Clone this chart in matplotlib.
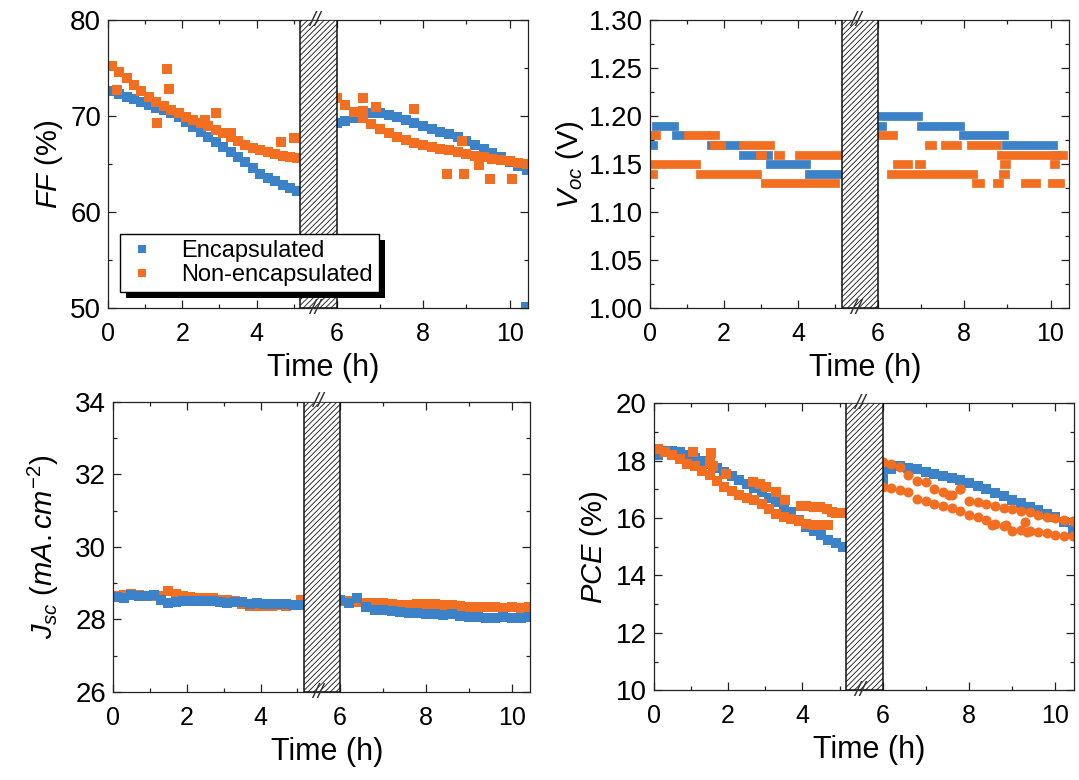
import numpy as np
import matplotlib
matplotlib.use("Agg")
import matplotlib.pyplot as plt
from matplotlib.patches import Rectangle

plt.rcParams['font.family'] = ['Liberation Sans', 'DejaVu Sans']
plt.rcParams['mathtext.fontset'] = 'custom'
plt.rcParams['mathtext.rm'] = 'Liberation Sans'
plt.rcParams['mathtext.it'] = 'Liberation Sans:italic'
plt.rcParams['hatch.linewidth'] = 0.6

BLUE = '#3c82c8'
ORANGE = '#f26f21'

# time grids (h), before and after the break
t_a = [0.1, 0.3, 0.5, 0.7, 0.9, 1.1, 1.3, 1.5, 1.7, 1.9, 2.1, 2.3, 2.5,
       2.7, 2.9, 3.1, 3.3, 3.5, 3.7, 3.9, 4.1, 4.3, 4.5, 4.7, 4.9, 5.1]
t_b = [6.0, 6.2, 6.4, 6.6, 6.8, 7.0, 7.2, 7.4, 7.6, 7.8, 8.0, 8.2,
       8.4, 8.6, 8.8, 9.0, 9.2, 9.4, 9.6, 9.8, 10.0, 10.2, 10.4]

# FF (%)
ff_enc_a = [72.6, 72.3, 72.0, 71.8, 71.5, 71.2, 70.9, 70.6, 70.3, 69.9, 69.4, 68.9, 68.4,
            67.8, 67.3, 66.8, 66.3, 65.7, 65.2, 64.6, 64.0, 63.6, 63.2, 62.8, 62.5, 62.2]
ff_enc_b = [69.3, 69.5, 69.8, 70.1, 70.3, 70.3, 70.1, 69.9, 69.6, 69.3, 69.0, 68.7,
            68.4, 68.1, 67.8, 67.4, 67.0, 66.6, 66.2, 65.7, 65.2, 64.8, 64.4]
ff_non_a = [75.2, 74.6, 74.0, 73.3, 72.6, 72.0, 71.5, 71.1, 70.7, 70.3, 69.9, 69.6, 69.3,
            69.0, 68.6, 68.2, 67.8, 67.4, 67.0, 66.7, 66.5, 66.3, 66.1, 65.9, 65.8, 65.6]
ff_non_b = [71.9, 71.2, 70.4, 69.8, 69.2, 68.7, 68.2, 67.8, 67.5, 67.2, 67.0, 66.8,
            66.6, 66.5, 66.3, 66.1, 65.9, 65.7, 65.5, 65.4, 65.3, 65.1, 65.0]
ff_non_xt = [0.24, 1.58, 1.63, 1.31, 2.92, 4.67, 5.0, 6.6, 6.9, 6.6, 7.8, 8.9, 8.55,
             8.95, 9.55, 10.05, 9.3, 2.6, 3.3]
ff_non_xv = [72.7, 74.9, 72.8, 69.3, 70.3, 67.3, 67.7, 71.9, 71.0, 70.5, 70.8, 67.4, 64.0,
             64.0, 63.5, 63.5, 64.9, 69.6, 68.3]
ff_enc_xt = [10.38]
ff_enc_xv = [50.1]

# Voc (V): runs of equal readings (start h, end h, value)
voc_enc_runs = [(0.15, 0.65, 1.19), (0.03, 0.07, 1.18), (0.71, 0.83, 1.18),
                (0.03, 0.07, 1.17), (1.65, 2.35, 1.17), (2.5, 3.18, 1.16),
                (3.25, 4.22, 1.15), (4.29, 5.05, 1.14),
                (6.09, 6.92, 1.20), (6.05, 6.1, 1.19), (6.99, 7.91, 1.19),
                (7.98, 8.92, 1.18), (8.96, 10.05, 1.17), (10.12, 10.16, 1.16)]
voc_non_runs = [(0.1, 0.16, 1.18), (1.03, 1.5, 1.18), (1.68, 1.75, 1.18),
                (1.72, 1.92, 1.17), (2.5, 3.23, 1.17),
                (2.97, 3.03, 1.16), (3.45, 3.5, 1.16), (4.02, 5.07, 1.16),
                (0.05, 1.23, 1.15), (0.03, 0.07, 1.14), (1.35, 2.9, 1.14),
                (3.1, 5.0, 1.13),
                (6.09, 6.35, 1.18), (7.18, 7.26, 1.17), (7.56, 7.84, 1.17),
                (8.16, 8.76, 1.17), (8.85, 10.28, 1.16),
                (6.43, 6.69, 1.15), (6.95, 7.0, 1.15), (8.93, 8.97, 1.15),
                (10.07, 10.11, 1.15), (6.29, 8.21, 1.14), (8.9, 8.94, 1.14),
                (8.27, 8.37, 1.13), (8.76, 8.8, 1.13), (9.4, 9.67, 1.13),
                (10.04, 10.21, 1.13)]

# Jsc (mA cm-2)
jsc_enc_a = [28.62, 28.60, 28.68, 28.65, 28.65, 28.67, 28.55, 28.45, 28.48, 28.50, 28.50,
             28.50, 28.50, 28.50, 28.48, 28.46, 28.48, 28.47, 28.44, 28.45, 28.44, 28.44,
             28.42, 28.42, 28.40, 28.40]
jsc_enc_b = [28.55, 28.45, 28.58, 28.35, 28.25, 28.25, 28.22, 28.20, 28.18, 28.18, 28.15,
             28.15, 28.12, 28.15, 28.10, 28.08, 28.08, 28.05, 28.05, 28.08, 28.05, 28.05,
             28.07]
jsc_non_a = [28.65, 28.68, 28.70, 28.68, 28.66, 28.65, 28.65, 28.78, 28.70, 28.65, 28.62,
             28.60, 28.60, 28.58, 28.55, 28.53, 28.50, 28.42, 28.38, 28.38, 28.36, 28.38,
             28.40, 28.38, 28.40, 28.55]
jsc_non_b = [28.50, 28.50, 28.48, 28.45, 28.45, 28.45, 28.42, 28.40, 28.40, 28.42, 28.42,
             28.42, 28.40, 28.40, 28.38, 28.35, 28.35, 28.35, 28.35, 28.33, 28.35, 28.33,
             28.35]

# PCE (%)
pce_enc_a = [18.2, 18.35, 18.35, 18.3, 18.2, 18.1, 18.0, 17.9, 17.75, 17.6, 17.45, 17.32,
             17.2, 17.05, 16.9, 16.7, 16.55, 16.4, 16.2, 15.95, 15.7, 15.55, 15.4, 15.25,
             15.12, 14.98]
pce_enc_b = [17.45, 17.7, 17.8, 17.75, 17.7, 17.62, 17.55, 17.48, 17.4, 17.32, 17.22,
             17.12, 17.0, 16.88, 16.76, 16.64, 16.52, 16.4, 16.28, 16.15, 16.04, 15.85,
             15.6]
pce_enc_xt = [6.0, 6.0]
pce_enc_xv = [17.15, 17.75]
pce_non_a = [18.4, 18.3, 18.2, 18.05, 17.9, 17.8, 17.65, 17.5, 17.3, 17.1, 16.95, 16.8,
             16.7, 16.62, 16.5, 16.3, 16.15, 16.05, 15.98, 15.9, 15.8, 15.77, 15.77, 15.77,
             16.16, 16.16]
pce_non_xt = [1.06, 1.55, 1.5, 1.6, 1.95, 2.67, 2.85, 3.03, 3.3, 3.52, 3.95, 4.1, 4.3,
              4.46, 4.65, 4.8, 5.0]
pce_non_xv = [18.3, 18.25, 17.96, 17.8, 17.55, 17.26, 17.2, 17.1, 16.9, 16.62, 16.42,
              16.41, 16.38, 16.38, 16.3, 16.2, 16.16]
pce_non_b1 = [17.95, 17.88, 17.78, 17.49, 17.3, 17.26, 17.03, 16.9, 16.8, 17.0, 16.6,
              16.55, 16.48, 16.42, 16.35, 16.3, 16.25, 16.2, 16.12, 16.05, 16.0, 15.95,
              15.9]
pce_non_b2 = [17.1, 17.05, 16.98, 16.9, 16.68, 16.58, 16.5, 16.42, 16.35, 16.25, 16.12,
              16.05, 15.92, 15.8, 15.72, 15.55, 15.6, 15.55, 15.52, 15.48, 15.4, 15.38,
              15.38]
pce_non_xt2 = [8.53, 8.85, 9.3, 9.35, 7.54, 7.8]
pce_non_xv2 = [15.75, 15.75, 15.86, 15.52, 16.8, 17.03]

# broken time axis: 0-5.18 h, hatched gap, then 6-10.4 h on a wider scale
BRK0, BRK1 = 5.18, 6.0
U1 = 6.156
RATE = 1.164


def fwd(t):
    t = np.asarray(t, dtype=float)
    mid = BRK0 + (t - BRK0) * (U1 - BRK0) / (BRK1 - BRK0)
    return np.where(t < BRK0, t, np.where(t < BRK1, mid, U1 + (t - BRK1) * RATE))


def inv(u):
    u = np.asarray(u, dtype=float)
    mid = BRK0 + (u - BRK0) * (BRK1 - BRK0) / (U1 - BRK0)
    return np.where(u < BRK0, u, np.where(u < U1, mid, BRK1 + (u - U1) / RATE))


MS = 7.2


def pts(ax, x, y, color, marker='s', label=None, z=2):
    ax.plot(x, y, marker, ms=MS, mew=0, color=color, label=label, zorder=z)


def style(ax, ylim, major, minor, fmt, ylabel, ypad):
    ax.set_xscale('function', functions=(fwd, inv))
    ax.set_xlim(0, 10.42)
    ax.set_xticks([0, 2, 4, 6, 8, 10])
    ax.set_xticks([1, 3, 5, 7, 9], minor=True)
    ax.set_xticklabels(['0', '2', '4', '6', '8', '10'])
    ax.set_ylim(*ylim)
    ax.set_yticks(major)
    ax.set_yticks(minor, minor=True)
    ax.set_yticklabels([fmt % v for v in major])
    ax.tick_params(which='both', direction='in', top=True, right=True,
                   width=0.9, color='#222222')
    ax.tick_params(which='major', length=5.5)
    ax.tick_params(which='minor', length=3)
    ax.tick_params(axis='x', pad=10, labelsize=18)
    ax.tick_params(axis='y', pad=5, labelsize=20)
    for s in ax.spines.values():
        s.set_linewidth(0.9)
        s.set_color('#222222')
    ax.set_xlabel('Time (h)', fontsize=22, labelpad=5)
    ax.xaxis.label.set_x(0.513)
    ax.set_ylabel(ylabel, fontsize=21, labelpad=ypad)
    ax.axvspan(BRK0, BRK1, facecolor='white', edgecolor='#111111', hatch='//////',
               lw=1.1, zorder=3)
    tr = ax.get_xaxis_transform()
    for yy in (1.0, 0.0):
        ax.text(5.5, yy, '//', transform=tr, fontsize=15, ha='center', va='center',
                style='italic', color='#333333', zorder=6, clip_on=False)


fig = plt.figure(figsize=(10.79, 7.80), dpi=100)
ax1 = fig.add_axes([0.1001, 0.605, 0.389, 0.369])
ax2 = fig.add_axes([0.6024, 0.605, 0.388, 0.369])
ax3 = fig.add_axes([0.1047, 0.1128, 0.3865, 0.372])
ax4 = fig.add_axes([0.606, 0.115, 0.389, 0.368])

# FF
pts(ax1, t_a, ff_enc_a, BLUE, label='Encapsulated')
pts(ax1, t_b, ff_enc_b, BLUE)
pts(ax1, ff_enc_xt, ff_enc_xv, BLUE)
pts(ax1, t_a, ff_non_a, ORANGE, label='Non-encapsulated')
pts(ax1, t_b, ff_non_b, ORANGE)
pts(ax1, ff_non_xt, ff_non_xv, ORANGE)
style(ax1, (50, 80), [50, 60, 70, 80], [55, 65, 75], '%d', r'$FF$ (%)', 4)

# Voc
LW = 6.3
for t0, t1, v in voc_enc_runs:
    ax2.hlines(v, t0, t1, colors=BLUE, linewidth=LW, capstyle='projecting', zorder=2)
for t0, t1, v in voc_non_runs:
    ax2.hlines(v, t0, t1, colors=ORANGE, linewidth=LW, capstyle='projecting', zorder=2.1)
style(ax2, (1.0, 1.3), [1.00, 1.05, 1.10, 1.15, 1.20, 1.25, 1.30],
      [1.025, 1.075, 1.125, 1.175, 1.225, 1.275], '%.2f', r'$V_{oc}$ (V)', 2)

# Jsc
pts(ax3, t_a, jsc_non_a, ORANGE)
pts(ax3, t_b, jsc_non_b, ORANGE)
pts(ax3, t_a, jsc_enc_a, BLUE)
pts(ax3, t_b, jsc_enc_b, BLUE)
style(ax3, (26, 34), [26, 28, 30, 32, 34], [27, 29, 31, 33], '%d',
      r'$J_{sc}\ (mA.cm^{-2})$', 10)

# PCE
pts(ax4, t_a, pce_enc_a, BLUE)
pts(ax4, t_b, pce_enc_b, BLUE)
pts(ax4, pce_enc_xt, pce_enc_xv, BLUE)
pts(ax4, t_a, pce_non_a, ORANGE)
pts(ax4, pce_non_xt, pce_non_xv, ORANGE)
pts(ax4, t_b, pce_non_b1, ORANGE, marker='o')
pts(ax4, t_b, pce_non_b2, ORANGE, marker='o')
pts(ax4, pce_non_xt2, pce_non_xv2, ORANGE, marker='o')
style(ax4, (10, 20), [10, 12, 14, 16, 18, 20], [11, 13, 15, 17, 19], '%d',
      r'$PCE$ (%)', 4)

# legend with a solid black drop shadow
leg = ax1.legend(loc='lower left', bbox_to_anchor=(0.0286, 0.0556), borderaxespad=0,
                 frameon=True, fancybox=False, edgecolor='black', framealpha=1,
                 fontsize=17, handlelength=1.4, handletextpad=0.95, borderpad=0.25,
                 labelspacing=0.1, markerscale=0.8)
leg.get_frame().set_linewidth(1.0)
leg.set_zorder(6)
fig.canvas.draw()
bb = leg.get_window_extent().transformed(ax1.transAxes.inverted())
ax1.add_patch(Rectangle((bb.x0 + 0.014, bb.y0 - 0.021), bb.width, bb.height,
                        transform=ax1.transAxes, facecolor='black', edgecolor='none',
                        zorder=5.5, clip_on=False))

fig.savefig('out.png', dpi=100)
